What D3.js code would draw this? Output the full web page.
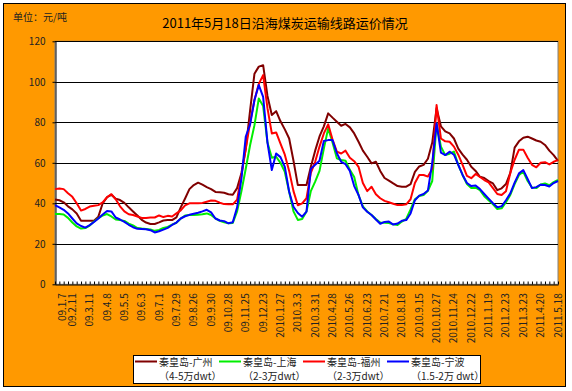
<!DOCTYPE html>
<html><head><meta charset="utf-8">
<script src="https://cdn.jsdelivr.net/npm/d3@7/dist/d3.min.js"></script>
<style>body{margin:0;background:#fff}svg{display:block}</style>
</head><body><svg id="c" width="572" height="391"></svg>
<script>
const chartTitle = "2011年5月18日沿海煤炭运输线路运价情况";
const unitLabel = "单位：元/吨";
const tickLabels = ["09.1.7","09.2.11","09.3.11","09.4.8","09.5.5","09.6.3","09.7.1","09.7.29","09.8.26","09.9.30","09.10.28","09.11.25","09.12.23","2010.1.27","2010.3.3","2010.3.31","2010.4.28","2010.5.26","2010.6.23","2010.7.21","2010.8.18","2010.9.15","2010.10.27","2010.11.24","2010.12.22","2011.1.19","2011.2.23","2011.3.23","2011.4.20","2011.5.18"];
const seriesNames = ["秦皇岛-广州","秦皇岛-上海","秦皇岛-福州","秦皇岛-宁波"];
const seriesSub = ["（4-5万dwt）","（2-3万dwt）","（2-3万dwt）","（1.5-2万 dwt）"];
const seriesColors = ["#800000","#00ee00","#ff0000","#0000ff"];
const yTicks = [0,20,40,60,80,100,120];

const guangzhou = [41.9,41.5,40.5,38.5,37,35,31.4,31.4,31.4,31.4,33.4,40,43,44.2,42.3,41.6,40.2,38,36,34,31.8,30.5,29.8,29.8,30.6,31.5,31.7,31.7,33,38,42.4,47,49,50.2,49.2,48,47,45.6,45.5,45.2,44.5,44.2,47.5,55,67,86,104,107.5,108.2,93,83.6,85.5,80.5,76.5,72,61,49,49,49,58,66,73,78,84.4,82.3,80.3,78.3,79.2,77.5,74.5,70.4,66,63,59.7,60.5,56,52.5,51.2,49.8,48.5,48.2,48.2,49.5,55.5,58.2,59,62,70,87,78,75.5,74.5,72,67,64,61.5,58,56,53.1,52.5,51,49.8,46.5,47.4,49.5,55,67.5,70.6,72.4,72.9,72,71,70.4,68.8,66,63.8,61];
const shanghai = [34.7,34.7,34.5,32.8,30.5,28.6,27.5,27.8,29,31,32.6,34,34.7,33.5,32,31.7,31.3,30,29.1,27.8,27.5,27.3,27.1,26.4,26.8,27.8,28.3,29.5,30.4,32.5,34,34.2,34.2,34.4,34.6,35,34.2,32.5,31.3,30.6,30.2,30.3,36,46,57.2,68.8,78.6,91.8,88,70,62.5,63,60,55.5,45.7,36,31.8,32.2,35.9,46,50.7,56,67,77,70,62.2,61.4,61,56.5,53,44,38.5,36,34.2,32.2,30.5,30.4,30.3,29.6,29.3,31,32.3,37,42,43.6,44.1,46.2,51,79.5,68,63.8,64.5,65.5,59,54,49.5,47.5,47.7,46.5,43.5,41.5,39.5,37.2,37.5,40.5,44.1,49.5,54,55.6,51,47.8,47.5,49.3,49.8,48.9,50.5,51.5];
const fuzhou = [47,47.3,47,45,43.2,40,36.4,37.2,38.4,38.8,39.1,40.5,43,44.5,42,38.5,36,34.6,34.2,33.5,32.8,32.8,33,33,34,33.2,33.8,33.5,35,36.5,39,40,40,40,40.2,40.8,41.4,41.2,40.3,39.6,39.5,39.5,41.8,54,67,80,91,99,103.3,87,74.5,75,69.5,64,56,46,39,40,42.5,55,60.5,68,74.5,79,71.5,65.5,64.6,66,62.5,60.8,58,50,46,48.2,44.5,42.5,41.2,40.5,39.8,39.1,39.1,39.5,42,50,54,54,53.2,57,88.5,72,70.6,70.4,68,64,59,53.5,52.4,54.5,53,51.5,50.3,47.5,44.6,44.1,46,55,61.5,66.5,66.5,62.5,59,57.8,60,60.3,59.2,60.5,61.3];
const ningbo = [39.1,38,36.8,35,32.5,30.1,28.8,28,29.2,30.8,32.5,34.5,36.2,36,33,32,30.8,29.4,28.2,27.4,27.3,27.2,26.7,25.6,26.2,27,27.9,29.3,30.5,32.5,33.6,34.3,34.8,35.3,36,36.8,35.5,32.5,31.5,31.2,30.1,30.6,38,52.3,73,79,91,98.4,92.6,70,56.4,64.6,62.8,58,45.7,38.3,35.2,33.4,35.9,57,59,61,70.8,71.2,71.2,64.7,60.5,59.3,56,48.5,44.1,38,35.8,34.2,32,29.9,30.8,31,29.5,30,31.4,31.7,35,41.5,43.8,44.6,46.3,60,79.5,65,63.8,65.5,64,59,54,50,48.5,48.8,47,44.6,42.3,40,38,38.5,41.5,44.9,50.2,54.8,56.4,52,47.5,48,49.2,49,48.3,50,51];

const seriesData = [guangzhou, shanghai, fuzhou, ningbo];
const N = guangzhou.length;
const FONT = "'Noto Sans CJK SC','SimSun',sans-serif";

const svg = d3.select("#c");
// chart background
svg.append("rect").attr("x",3.5).attr("y",3.5).attr("width",562).attr("height",383)
  .attr("fill","#ff9900").attr("stroke","#000").attr("stroke-width",1);

const L = 55, R = 558, T = 41.3, B = 284.3;
const x = d3.scaleLinear().domain([0, N-1]).range([L, R]);
const y = d3.scaleLinear().domain([0, 120]).range([B, T]);

// plot area
svg.append("rect").attr("x",L).attr("y",T).attr("width",R-L).attr("height",B-T)
  .attr("fill","#fff").attr("stroke","#808080").attr("stroke-width",1);

// gridlines
svg.append("g").selectAll("line").data(yTicks.filter(d=>d>0)).join("line")
  .attr("x1",L).attr("x2",R).attr("y1",d=>Math.round(y(d))+0.5).attr("y2",d=>Math.round(y(d))+0.5)
  .attr("stroke","#000").attr("stroke-width",1);

// y axis
const ya = svg.append("g").attr("transform",`translate(${L+0.5},0)`)
  .call(d3.axisLeft(y).tickValues(yTicks).tickSize(3).tickPadding(7).tickSizeOuter(0));
ya.select(".domain").attr("stroke","#000");
ya.selectAll(".tick line").attr("stroke","#000");
ya.selectAll("text").attr("font-family",FONT).attr("font-size",10).attr("fill","#222");

// x axis: minor ticks at every category
const xa = svg.append("g").attr("transform",`translate(0,${Math.round(B)+0.5})`)
  .call(d3.axisBottom(x).tickValues(d3.range(N)).tickSizeInner(-3).tickSizeOuter(0).tickFormat(""));
xa.select(".domain").attr("stroke","#000");
xa.selectAll(".tick line").attr("stroke","#000");

// x labels every 4 categories
const labIdx = tickLabels.map((d,i)=>i*4);
svg.append("g").selectAll("text").data(tickLabels).join("text")
  .attr("transform",(d,i)=>`translate(${Math.max(x(labIdx[i]), L+7)},${B+9}) rotate(-90)`)
  .attr("text-anchor","end").attr("dy","0.35em")
  .attr("font-family",FONT).attr("font-size",10).attr("fill","#222")
  .text(d=>d);

// lines
const line = d3.line().x((d,i)=>x(i)).y(d=>y(d));
svg.append("g").selectAll("path").data(seriesData).join("path")
  .attr("d",line).attr("fill","none")
  .attr("stroke",(d,i)=>seriesColors[i]).attr("stroke-width",2)
  .attr("stroke-linejoin","round");

// title
svg.append("text").attr("x",285).attr("y",28).attr("text-anchor","middle")
  .attr("font-family",FONT).attr("font-size",13).attr("fill","#000").text(chartTitle);
svg.append("text").attr("x",13).attr("y",21)
  .attr("font-family",FONT).attr("font-size",10).attr("fill","#222").text(unitLabel);

// legend
const lg = svg.append("g");
lg.append("rect").attr("x",133.5).attr("y",355.5).attr("width",347).attr("height",28)
  .attr("fill","#fff").attr("stroke","#000");
const items = lg.selectAll("g").data(seriesNames).join("g")
  .attr("transform",(d,i)=>`translate(${135 + i*84},0)`);
items.append("line").attr("x1",0).attr("x2",22).attr("y1",361.5).attr("y2",361.5)
  .attr("stroke",(d,i)=>seriesColors[i]).attr("stroke-width",2);
items.append("text").attr("x",24).attr("y",365.5)
  .attr("font-family",FONT).attr("font-size",10).attr("fill","#222").text(d=>d);
items.append("text").attr("x",24).attr("y",380)
  .attr("font-family",FONT).attr("font-size",10).attr("fill","#222").text((d,i)=>seriesSub[i]);
</script></body></html>
